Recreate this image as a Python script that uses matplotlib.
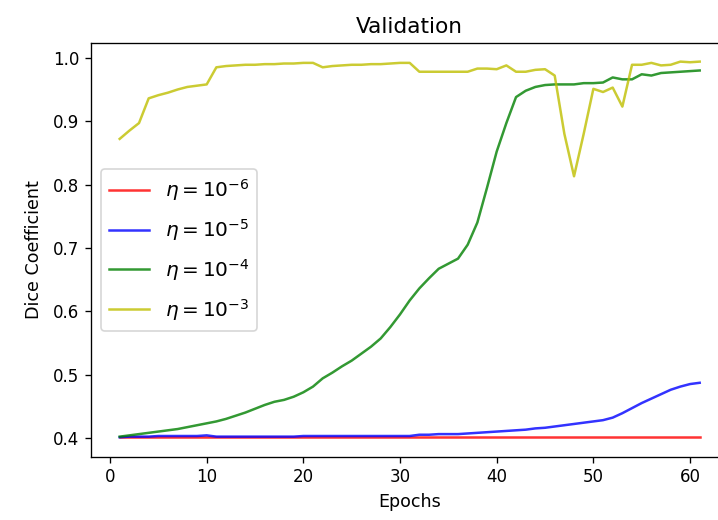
import numpy as np
import matplotlib
matplotlib.use("Agg")
import matplotlib.pyplot as plt

epochs = np.arange(1, 62)

# dice on validation set
dice_1e6 = [0.401] * 61

dice_1e5 = [0.401, 0.402, 0.402, 0.402, 0.403, 0.403, 0.403, 0.403, 0.403, 0.404,
            0.402, 0.402, 0.402, 0.402, 0.402, 0.402, 0.402, 0.402, 0.402, 0.403,
            0.403, 0.403, 0.403, 0.403, 0.403, 0.403, 0.403, 0.403, 0.403, 0.403,
            0.403, 0.405, 0.405, 0.406, 0.406, 0.406, 0.407, 0.408, 0.409, 0.410,
            0.411, 0.412, 0.413, 0.415, 0.416, 0.418, 0.420, 0.422, 0.424, 0.426,
            0.428, 0.432, 0.439, 0.447, 0.455, 0.462, 0.469, 0.476, 0.481, 0.485,
            0.487]

dice_1e4 = [0.402, 0.404, 0.406, 0.408, 0.410, 0.412, 0.414, 0.417, 0.420, 0.423,
            0.426, 0.430, 0.435, 0.440, 0.446, 0.452, 0.457, 0.460, 0.465, 0.472,
            0.481, 0.494, 0.503, 0.513, 0.522, 0.533, 0.544, 0.557, 0.575, 0.595,
            0.617, 0.636, 0.652, 0.667, 0.675, 0.683, 0.705, 0.740, 0.795, 0.852,
            0.897, 0.938, 0.948, 0.954, 0.957, 0.958, 0.958, 0.958, 0.960, 0.960,
            0.961, 0.969, 0.966, 0.966, 0.974, 0.972, 0.976, 0.977, 0.978, 0.979,
            0.980]

dice_1e3 = [0.872, 0.885, 0.897, 0.936, 0.941, 0.945, 0.950, 0.954, 0.956, 0.958,
            0.985, 0.987, 0.988, 0.989, 0.989, 0.990, 0.990, 0.991, 0.991, 0.992,
            0.992, 0.985, 0.987, 0.988, 0.989, 0.989, 0.990, 0.990, 0.991, 0.992,
            0.992, 0.978, 0.978, 0.978, 0.978, 0.978, 0.978, 0.983, 0.983, 0.982,
            0.988, 0.978, 0.978, 0.981, 0.982, 0.972, 0.880, 0.813, 0.880, 0.951,
            0.946, 0.953, 0.923, 0.989, 0.989, 0.992, 0.988, 0.989, 0.994, 0.993,
            0.994]

dpi = 120
fig = plt.figure(figsize=(718 / dpi, 520 / dpi), dpi=dpi)
# axes run past the right edge, the original was cropped there
ax = fig.add_axes([0.1263, 0.1217, 0.8886, 0.796])

ax.plot(epochs, dice_1e6, 'r', alpha=0.8, label=r'$\eta = 10^{-6}$')
ax.plot(epochs, dice_1e5, 'b', alpha=0.8, label=r'$\eta = 10^{-5}$')
ax.plot(epochs, dice_1e4, 'g', alpha=0.8, label=r'$\eta = 10^{-4}$')
ax.plot(epochs, dice_1e3, 'y', alpha=0.8, label=r'$\eta = 10^{-3}$')

ax.set_xlim(-2, 64)
ax.set_ylim(0.3703, 1.0237)
ax.set_title('Validation', fontsize=13)
ax.set_xlabel('Epochs', fontsize=10.5)
ax.set_ylabel('Dice Coefficient', fontsize=10.5, labelpad=6)
ax.legend(loc='center left', fontsize='large', labelspacing=0.7)

fig.savefig('out.png', dpi=dpi)
